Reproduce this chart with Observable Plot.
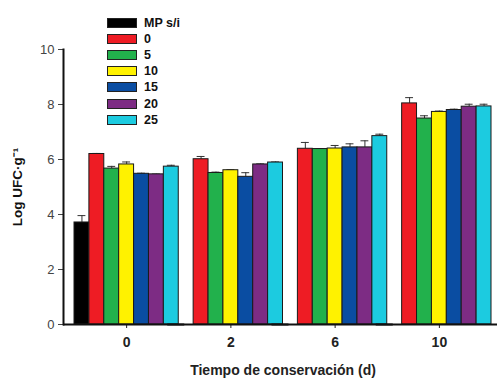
<!DOCTYPE html>
<html>
<head>
<meta charset="utf-8">
<script src="https://cdn.jsdelivr.net/npm/d3@7"></script>
<script src="https://cdn.jsdelivr.net/npm/@observablehq/plot@0.6"></script>
<style>
  body { margin: 0; background: #fff; font-family: "Liberation Sans", Arial, sans-serif; }
  #wrap { position: relative; width: 500px; height: 378px; }
  #legend { position: absolute; left: 107px; top: 15px; }
  .row { display: flex; align-items: center; height: 16.1px; }
  .sw { width: 28px; height: 8px; border: 1px solid #222; margin-right: 7px; }
  .lab { font-weight: bold; font-size: 12.5px; color: #111; }
</style>
</head>
<body>
<div id="wrap"><div id="legend"></div></div>
<script>
const days = ["0", "2", "6", "10"];
const series = ["MP s/i", "0", "5", "10", "15", "20", "25"];
const colors = ["#000000", "#ee1c24", "#22b14c", "#fff200", "#0a4da2", "#7d2c84", "#1ccbe0"];
const yTicks = [0, 2, 4, 6, 8, 10];

// values per series across days (0, 2, 6, 10)
const valMP  = [3.71, null, null, null];
const errMP  = [0.25, null, null, null];
const val0   = [6.20, 6.01, 6.39, 8.04];
const err0   = [0.02, 0.10, 0.23, 0.21];
const val5   = [5.67, 5.51, 6.38, 7.49];
const err5   = [0.08, 0.03, 0.01, 0.10];
const val10  = [5.82, 5.61, 6.40, 7.73];
const err10  = [0.09, 0.02, 0.11, 0.03];
const val15  = [5.48, 5.37, 6.44, 7.80];
const err15  = [0.02, 0.15, 0.13, 0.03];
const val20  = [5.46, 5.82, 6.44, 7.92];
const err20  = [0.01, 0.02, 0.24, 0.09];
const val25  = [5.74, 5.89, 6.85, 7.93];
const err25  = [0.05, 0.02, 0.07, 0.08];

const vals = [valMP, val0, val5, val10, val15, val20, val25];
const errs = [errMP, err0, err5, err10, err15, err20, err25];

const rows = [];
series.forEach((s, i) => {
  days.forEach((d, j) => {
    if (vals[i][j] != null) rows.push({series: s, day: d, value: vals[i][j], err: errs[i][j], top: vals[i][j] + errs[i][j]});
  });
});

const chart = Plot.plot({
  width: 500,
  height: 378,
  marginLeft: 63,
  marginRight: 3,
  marginTop: 49,
  marginBottom: 54,
  style: {fontFamily: "Liberation Sans, Arial, sans-serif", background: "#fff"},
  fx: {domain: days, padding: 0, round: false, insetLeft: 11, insetRight: 6, label: null},
  x: {domain: series, padding: 0, round: false, axis: null},
  y: {domain: [0, 10], axis: null},
  color: {domain: series, range: colors},
  marks: [
    Plot.ruleX(rows, {fx: "day", x: "series", y1: "value", y2: "top", stroke: "#333", strokeWidth: 1}),
    Plot.tickY(rows, {fx: "day", x: "series", y: "top", stroke: "#333", strokeWidth: 1, insetLeft: 3.5, insetRight: 3.5}),
    Plot.barY(rows, {fx: "day", x: "series", y: "value", fill: "series", stroke: "#1a1a1a", strokeWidth: 1}),
    Plot.axisY({ticks: yTicks, dx: -11, tickSize: 5, tickPadding: 4, fontSize: 13, color: "#444", label: null}),
    Plot.axisY({ticks: [], dx: -11, tickSize: 0, label: "Log UFC·g⁻¹", labelAnchor: "center", labelArrow: "none", labelOffset: 62, fontSize: 13.5, fontWeight: "bold", color: "#111"}),
    Plot.axisFx({anchor: "bottom", tickSize: 4, tickPadding: 9, fontSize: 14, fontWeight: "bold", color: "#222", label: "Tiempo de conservación (d)", labelAnchor: "center", labelArrow: "none", labelOffset: 50}),
    Plot.ruleY([0], {stroke: "#111", strokeWidth: 2, insetLeft: -11, insetRight: -6}),
    Plot.frame({facetAnchor: "left", anchor: "left", dx: -11, stroke: "#111", strokeWidth: 2})
  ]
});
document.getElementById("wrap").prepend(chart);

const legend = document.getElementById("legend");
series.forEach((s, i) => {
  const row = document.createElement("div");
  row.className = "row";
  const sw = document.createElement("div");
  sw.className = "sw";
  sw.style.background = colors[i];
  const lab = document.createElement("span");
  lab.className = "lab";
  lab.textContent = s;
  row.append(sw, lab);
  legend.append(row);
});
</script>
</body>
</html>
